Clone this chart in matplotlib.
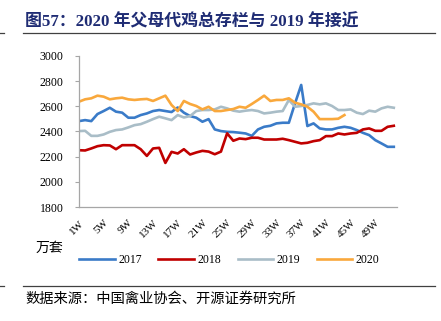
import numpy as np
import matplotlib.pyplot as plt
from matplotlib.lines import Line2D

# 周度数据：父母代种鸡存栏（万套）
weeks = [f"{i}W" for i in range(1, 53)]

y2017 = [2482, 2490, 2482, 2538, 2562, 2588, 2557, 2549, 2509, 2509,
         2530, 2543, 2562, 2570, 2562, 2554, 2590, 2549, 2522, 2509,
         2477, 2498, 2416, 2403, 2397, 2395, 2390, 2384, 2365, 2416,
         2437, 2445, 2464, 2469, 2469, 2623, 2769, 2443, 2464, 2424,
         2416, 2416, 2429, 2437, 2429, 2411, 2389, 2371, 2331, 2305,
         2278, 2278]

y2018 = [2251, 2249, 2265, 2283, 2291, 2289, 2259, 2291, 2291, 2291,
         2259, 2206, 2265, 2270, 2150, 2238, 2225, 2259, 2217, 2233,
         2246, 2240, 2219, 2240, 2385, 2326, 2344, 2339, 2350, 2350,
         2336, 2336, 2336, 2342, 2331, 2318, 2305, 2310, 2323, 2331,
         2363, 2363, 2384, 2376, 2384, 2389, 2416, 2424, 2405, 2405,
         2437, 2445]

y2019 = [2403, 2405, 2365, 2365, 2376, 2397, 2411, 2416, 2432, 2450,
         2458, 2477, 2498, 2517, 2504, 2490, 2530, 2511, 2522, 2562,
         2570, 2570, 2575, 2596, 2583, 2565, 2557, 2565, 2570, 2562,
         2543, 2549, 2557, 2562, 2650, 2596, 2602, 2610, 2623, 2615,
         2623, 2602, 2570, 2570, 2575, 2549, 2538, 2565, 2557, 2583,
         2596, 2588]

y2020 = [2636, 2655, 2663, 2684, 2676, 2655, 2663, 2668, 2655, 2650,
         2655, 2658, 2642, 2663, 2684, 2610, 2562, 2642, 2618, 2602,
         2575, 2596, 2562, 2562, 2570, 2578, 2596, 2588, 2618, 2650,
         2684, 2642, 2650, 2650, 2663, 2628, 2615, 2596, 2557, 2498,
         2498, 2498, 2501, 2530]

series = [("2017", y2017, "#3A7BC8"),
          ("2018", y2018, "#C00000"),
          ("2019", y2019, "#A9BDC7"),
          ("2020", y2020, "#F9A83C")]

serif = ["Liberation Serif", "Noto Sans CJK SC"]
cjk = ["Noto Sans CJK SC", "DejaVu Sans"]

fig = plt.figure(figsize=(4.41, 3.21), dpi=100)
ax = fig.add_axes([0.179, 0.355, 0.721, 0.471])

for name, vals, col in series:
    ax.plot(range(len(vals)), vals, color=col, lw=1.9, label=name)

ax.set_ylim(1800, 3000)
ax.set_yticks(range(1800, 3001, 200))
ax.set_xlim(0, 51.5)
ax.set_xticks(range(0, 52, 4))
ax.set_xticklabels(weeks[::4], rotation=45, ha="right", rotation_mode="anchor")

for sp in ["top", "right"]:
    ax.spines[sp].set_visible(False)
for sp in ["left", "bottom"]:
    ax.spines[sp].set_color("#A6A6A6")
    ax.spines[sp].set_linewidth(0.9)
ax.tick_params(axis="y", length=3, color="#A6A6A6", labelsize=8.5, pad=8)
ax.tick_params(axis="x", length=0, labelsize=8, pad=8)
for lab in ax.get_xticklabels() + ax.get_yticklabels():
    lab.set_family(serif)

# 标题与分隔线
fig.text(0.057, 0.932, "图57：2020 年父母代鸡总存栏与 2019 年接近",
         fontsize=12.2, fontweight="bold", color="#1F2C74", family=serif, va="center")
fig.add_artist(Line2D([0.052, 0.987], [0.897, 0.897], color="#404040", lw=0.9))
fig.add_artist(Line2D([0.0, 0.008], [0.897, 0.897], color="#404040", lw=0.9))

fig.text(0.08, 0.228, "万套", fontsize=10, family=cjk, va="center")

handles = [Line2D([], [], color=c, lw=1.9) for _, _, c in series]
fig.legend(handles, [s[0] for s in series], loc="center", bbox_to_anchor=(0.52, 0.19),
           ncol=4, frameon=False, handlelength=3.0, columnspacing=1.4,
           handletextpad=0.3, prop={"family": serif, "size": 8.5})

fig.add_artist(Line2D([0.052, 0.987], [0.108, 0.108], color="#404040", lw=0.9))
fig.add_artist(Line2D([0.0, 0.008], [0.108, 0.108], color="#404040", lw=0.9))
fig.text(0.057, 0.068, "数据来源：中国禽业协会、开源证券研究所", fontsize=10.3,
         family=cjk, va="center")

fig.savefig("out.png", dpi=100)
